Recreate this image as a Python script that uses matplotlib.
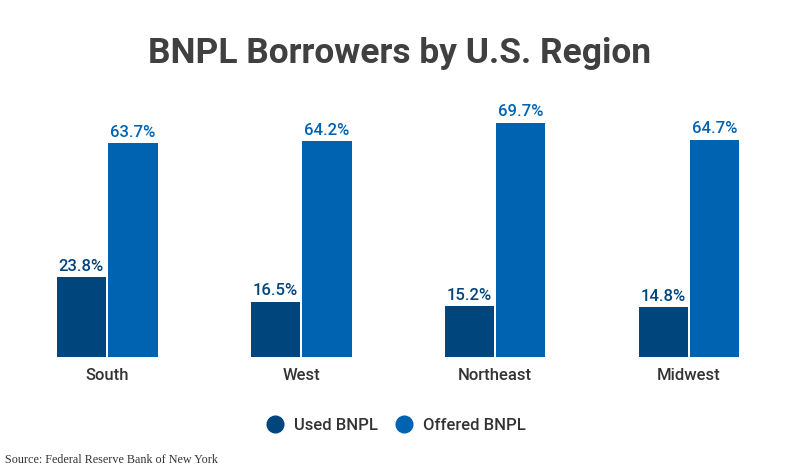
import matplotlib
matplotlib.use("Agg")
import matplotlib.pyplot as plt
from matplotlib.lines import Line2D

regions = ["South", "West", "Northeast", "Midwest"]
used = [23.8, 16.5, 15.2, 14.8]
offered = [63.7, 64.2, 69.7, 64.7]
c_used = "#00457c"
c_off = "#0063b1"

plt.rcParams['font.family'] = ['Roboto', 'DejaVu Sans']
fig = plt.figure(figsize=(8, 4.73), dpi=100)
ax = fig.add_axes([0, 0.245, 1, 277/473])
w = 0.255
xs = range(len(regions))
for i in xs:
    ax.bar(i - w/2 - 0.005, used[i], w, color=c_used)
    ax.bar(i + w/2 + 0.005, offered[i], w, color=c_off)
    ax.text(i - w/2 - 0.005, used[i] + 1, f"{used[i]}%", ha="center", va="bottom",
            fontsize=12, fontweight="medium", color=c_used)
    ax.text(i + w/2 + 0.005, offered[i] + 1, f"{offered[i]}%", ha="center", va="bottom",
            fontsize=12, fontweight="medium", color=c_off)
ax.set_xlim(-0.552, 3.572)
ax.set_ylim(0, 82.4)
ax.axis("off")
for i in xs:
    fig.text((107 + 194*i)/800, 1 - 375/473, regions[i], ha="center", va="center",
             fontsize=12, fontweight="medium", color="#333333")
fig.text(0.5, 1 - 53/473, "BNPL Borrowers by U.S. Region", ha="center", va="center",
         fontsize=25.5, fontweight="bold", color="#404040")
handles = [Line2D([], [], marker="o", ls="", ms=12, color=c_used, label="Used BNPL"),
           Line2D([], [], marker="o", ls="", ms=12, color=c_off, label="Offered BNPL")]
fig.legend(handles=handles, loc="center", bbox_to_anchor=(0.49, 1 - 425/473), ncol=2,
           frameon=False, handletextpad=0.1, columnspacing=0.6,
           labelcolor="#333333", prop={"weight": "medium", "size": 12})
fig.text(0.006, 1 - 460/473, "Source: Federal Reserve Bank of New York", ha="left", va="center",
         fontsize=8.7, family="Liberation Serif", color="#333333")
fig.savefig("out.png", dpi=100)
